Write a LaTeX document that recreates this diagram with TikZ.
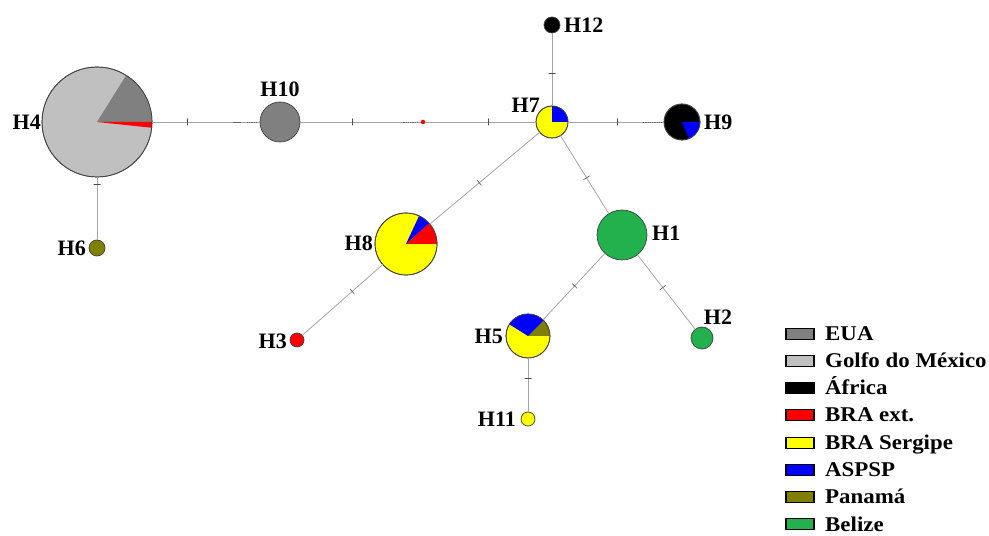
\documentclass[tikz,border=0pt]{standalone}
\usepackage{fontspec}
\setmainfont{Liberation Serif}
\newfontfamily\legfont[FakeStretch=1.09]{Liberation Serif}
\definecolor{eua}{RGB}{128,128,128}
\definecolor{golfo}{RGB}{192,192,192}
\definecolor{africa}{RGB}{0,0,0}
\definecolor{braext}{RGB}{255,0,0}
\definecolor{sergipe}{RGB}{255,255,0}
\definecolor{aspsp}{RGB}{0,0,255}
\definecolor{panama}{RGB}{128,128,0}
\definecolor{belize}{RGB}{34,177,76}
\definecolor{linkgray}{RGB}{165,165,165}

% filled pie slice: colour, node, start angle, end angle, radius
\newcommand\wedgefill[5]{%
  \fill[#1] (#2.center) -- ++(#3:#5) arc[start angle=#3, end angle=#4, radius=#5] -- cycle;}
% outline of a haplotype circle
\newcommand\hapring[2]{\draw[black!75, line width=0.7pt] (#1.center) circle[radius=#2];}

\begin{document}
\begin{tikzpicture}[x=1pt, y=1pt,
  hap/.style={circle, draw=black!75, line width=0.7pt, inner sep=0pt, outer sep=0pt, minimum size=#1},
  link/.style={draw=linkgray, line width=0.8pt},
  mtick/.style={sloped, draw=black!70, line width=0.6pt, inner sep=0pt, outer sep=0pt,
                minimum width=0pt, minimum height=7pt},
  darkseg/.style={draw=black!60, line width=0.8pt, densely dotted},
  hlabel/.style={font=\fontsize{22}{24}\selectfont\bfseries, inner sep=0pt},
  legtext/.style={font=\legfont\fontsize{21}{23}\selectfont\bfseries, anchor=base west, inner sep=0pt},
  legbox/.style={draw=black, line width=1.6pt, minimum width=28pt, minimum height=11pt, inner sep=0pt}]

\useasboundingbox (0,0) rectangle (989,536);
\fill[white] (0,0) rectangle (989,536);

% ---- haplotypes ----
\node[hap=110pt, fill=golfo]   (h4)  at (97,414)  {};
\node[hap=40pt,  fill=eua]     (h10) at (280,414) {};
\node[hap=16pt,  fill=panama]  (h6)  at (97,288)  {};
\node[circle, fill=braext, inner sep=0pt, outer sep=0pt, minimum size=4.5pt] (mv) at (423,414) {};
\node[hap=32pt,  fill=sergipe] (h7)  at (552,414) {};
\node[hap=16pt,  fill=africa]  (h12) at (552,511) {};
\node[hap=36pt,  fill=africa]  (h9)  at (682,414) {};
\node[hap=62pt,  fill=sergipe] (h8)  at (406,292) {};
\node[hap=14pt,  fill=braext]  (h3)  at (297,196) {};
\node[hap=50pt,  fill=belize]  (h1)  at (622,301) {};
\node[hap=44pt,  fill=sergipe] (h5)  at (528,200) {};
\node[hap=22pt,  fill=belize]  (h2)  at (702,198) {};
\node[hap=14pt,  fill=sergipe] (h11) at (528,117) {};

% ---- pie slices ----
\wedgefill{eua}{h4}{0}{58}{55}
\wedgefill{braext}{h4}{-6}{0}{55}
\hapring{h4}{55}
\wedgefill{aspsp}{h7}{0}{90}{16}
\hapring{h7}{16}
\wedgefill{aspsp}{h9}{-68}{0}{18}
\hapring{h9}{18}
\wedgefill{braext}{h8}{0}{42}{31}
\wedgefill{aspsp}{h8}{42}{65}{31}
\hapring{h8}{31}
\wedgefill{panama}{h5}{0}{45}{22}
\wedgefill{aspsp}{h5}{45}{148}{22}
\hapring{h5}{22}

% ---- links with mutation ticks ----
\draw[link] (h4) -- node[mtick, pos=0.33] {}
  coordinate[pos=0.75] (s1a) coordinate[pos=0.82] (s1b)
  coordinate[pos=0.88] (s2a) coordinate[pos=0.98] (s2b) (h10);
\draw[link] (h4) -- node[mtick, pos=0.11] {} (h6);
\draw[link] (h10) -- node[mtick, pos=0.43] {}
  coordinate[pos=0.85] (s3a) coordinate[pos=0.97] (s3b) (mv);
\draw[link] (mv) -- node[mtick, pos=0.57] {} (h7);
\draw[link] (h7) -- node[mtick, pos=0.45] {} (h12);
\draw[link] (h7) -- node[mtick, pos=0.51] {}
  coordinate[pos=0.78] (s4a) coordinate[pos=0.98] (s4b) (h9);
\draw[link] (h7) -- node[mtick, pos=0.55] {} (h8);
\draw[link] (h8) -- node[mtick, pos=0.38] {} (h3);
\draw[link] (h7) -- node[mtick, pos=0.54] {} (h1);
\draw[link] (h1) -- node[mtick, pos=0.49] {} (h5);
\draw[link] (h1) -- node[mtick, pos=0.44] {} (h2);
\draw[link] (h5) -- node[mtick, pos=0.37] {} (h11);

\draw[black!60, line width=0.9pt] (s1a) -- (s1b);
\draw[darkseg] (s2a) -- (s2b);
\draw[darkseg] (s3a) -- (s3b);
\draw[darkseg] (s4a) -- (s4b);

% ---- labels ----
\node[hlabel, anchor=east] (l4)  at (41,414)  {H4};
\node[hlabel]              (l10) at (280,447) {H10};
\node[hlabel, anchor=east] (l6)  at (86,288)  {H6};
\node[hlabel, anchor=west] (l12) at (564,511) {H12};
\node[hlabel, anchor=east] (l7)  at (540,431) {H7};
\node[hlabel, anchor=west] (l9)  at (704,414) {H9};
\node[hlabel, anchor=east] (l8)  at (373,293) {H8};
\node[hlabel, anchor=east] (l3)  at (287,195) {H3};
\node[hlabel, anchor=west] (l1)  at (652,303) {H1};
\node[hlabel, anchor=east] (l5)  at (503,200) {H5};
\node[hlabel]              (l2)  at (718,219) {H2};
\node[hlabel, anchor=east] (l11) at (516,117) {H11};

% ---- legend ----
\foreach \col/\txt/\y [count=\i] in {
    eua/EUA/202, golfo/Golfo do México/175, africa/África/148, braext/BRA ext./121,
    sergipe/BRA Sergipe/93, aspsp/ASPSP/66, panama/Panamá/39, belize/Belize/12} {
  \node[legbox, fill=\col] (kb\i) at (800,\y) {};
  \node[legtext] (kt\i) at (825,\y-7) {\txt};
}
\end{tikzpicture}
\end{document}
